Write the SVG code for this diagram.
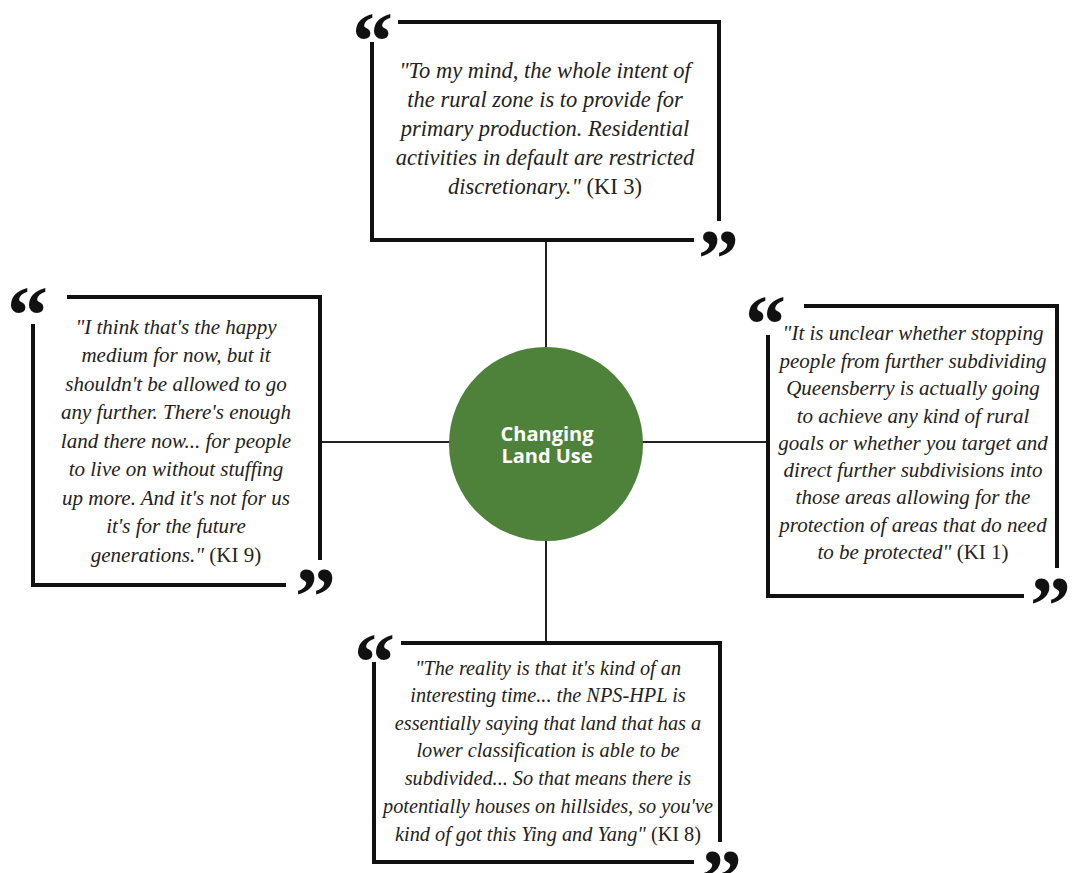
<svg xmlns="http://www.w3.org/2000/svg" width="1076" height="873" viewBox="0 0 1076 873">
<style>
.box{fill:none;stroke:#111;stroke-width:4;stroke-linecap:square}
.conn{stroke:#222;stroke-width:2;fill:none}
.q{font-family:"Liberation Serif","Times New Roman",serif;font-style:italic;fill:#222;text-anchor:middle}
.t22{font-size:22.5px}
.t21{font-size:21px}
.t20{font-size:20.3px}
.ki{font-style:normal}
.qm{font-family:"Liberation Serif","Times New Roman",serif;font-weight:bold;font-size:82px;fill:#111}
.ct{font-family:"Open Sans","Liberation Sans",sans-serif;font-weight:bold;font-size:20px;fill:#fff;text-anchor:middle}
</style>
<rect width="1076" height="873" fill="#fff"/>
<g id="connectors">
<line class="conn" x1="546" y1="240" x2="546" y2="348"/>
<line class="conn" x1="546" y1="540" x2="546" y2="643"/>
<line class="conn" x1="320" y1="442" x2="450" y2="442"/>
<line class="conn" x1="642" y1="442" x2="768" y2="442"/>
</g>
<g id="center">
<circle cx="546" cy="444" r="97" fill="#4e823a"/>
<text class="ct"><tspan x="547" y="441">Changing</tspan><tspan x="547" y="463">Land Use</tspan></text>
</g>
<g id="quote-top">
<path class="box" d="M400 22 H719 V219"/>
<path class="box" d="M372 44 V240 H692"/>
<text class="qm" x="352" y="69">“</text>
<text class="qm" x="698" y="286">”</text>
<text class="q t22" x="545" y="78">"To my mind, the whole intent of</text>
<text class="q t22" x="545" y="107">the rural zone is to provide for</text>
<text class="q t22" x="545" y="136">primary production. Residential</text>
<text class="q t22" x="545" y="165">activities in default are restricted</text>
<text class="q t22" x="545" y="194">discretionary." <tspan class="ki">(KI 3)</tspan></text>
</g>
<g id="quote-left">
<path class="box" d="M69 297 H320 V558"/>
<path class="box" d="M33 326 V585 H284"/>
<text class="qm" x="7" y="343">“</text>
<text class="qm" x="295" y="624">”</text>
<text class="q t21" x="176" y="334">"I think that's the happy</text>
<text class="q t21" x="176" y="362">medium for now, but it</text>
<text class="q t21" x="176" y="391">shouldn't be allowed to go</text>
<text class="q t21" x="176" y="419">any further. There's enough</text>
<text class="q t21" x="176" y="448">land there now... for people</text>
<text class="q t21" x="176" y="476">to live on without stuffing</text>
<text class="q t21" x="176" y="505">up more. And it's not for us</text>
<text class="q t21" x="176" y="533">it's for the future</text>
<text class="q t21" x="176" y="562">generations." <tspan class="ki">(KI 9)</tspan></text>
</g>
<g id="quote-right">
<path class="box" d="M806 306 H1057 V566"/>
<path class="box" d="M768 337 V596 H1022"/>
<text class="qm" x="745" y="352">“</text>
<text class="qm" x="1030" y="633">”</text>
<text class="q t21" x="913" y="340">"It is unclear whether stopping</text>
<text class="q t21" x="913" y="368">people from further subdividing</text>
<text class="q t21" x="913" y="395">Queensberry is actually going</text>
<text class="q t21" x="913" y="423">to achieve any kind of rural</text>
<text class="q t21" x="913" y="450">goals or whether you target and</text>
<text class="q t21" x="913" y="477">direct further subdivisions into</text>
<text class="q t21" x="913" y="504">those areas allowing for the</text>
<text class="q t21" x="913" y="532">protection of areas that do need</text>
<text class="q t21" x="913" y="559">to be protected" <tspan class="ki">(KI 1)</tspan></text>
</g>
<g id="quote-bottom">
<path class="box" d="M403 643 H720 V840"/>
<path class="box" d="M374 664 V862 H692"/>
<text class="qm" x="354" y="690">“</text>
<text class="qm" x="701" y="906">”</text>
<text class="q t20" x="548" y="675">"The reality is that it's kind of an</text>
<text class="q t20" x="548" y="702">interesting time... the NPS-HPL is</text>
<text class="q t20" x="548" y="730">essentially saying that land that has a</text>
<text class="q t20" x="548" y="757">lower classification is able to be</text>
<text class="q t20" x="548" y="785">subdivided... So that means there is</text>
<text class="q t20" x="548" y="813">potentially houses on hillsides, so you've</text>
<text class="q t20" x="548" y="841">kind of got this Ying and Yang" <tspan class="ki">(KI 8)</tspan></text>
</g>
</svg>
